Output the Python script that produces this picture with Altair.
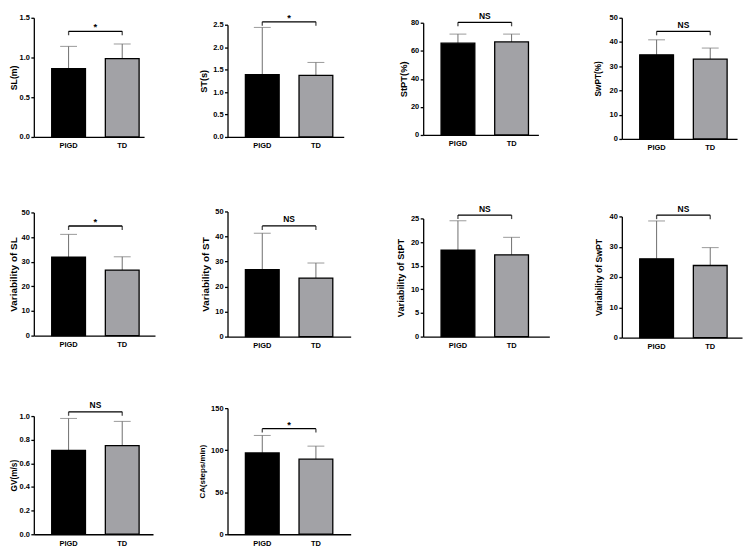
import altair as alt
import pandas as pd

# ---------------- data ----------------
groups = ["PIGD", "TD"]
y_titles = ["SL(m)", "ST(s)", "StPT(%)", "SwPT(%)",
            "Variability of SL", "Variability of ST", "Variability of StPT", "Variability of SwPT",
            "GV(m/s)", "CA(steps/min)"]
pigd_mean = [0.86, 1.39, 65.4, 34.7, 31.9, 26.8, 18.3, 26.0, 0.71, 96.7]
pigd_upper = [1.14, 2.44, 71.9, 40.9, 41.1, 41.3, 24.5, 38.5, 0.98, 117.5]
td_mean = [0.985, 1.37, 66.3, 32.9, 26.6, 23.4, 17.3, 23.8, 0.75, 89.3]
td_upper = [1.17, 1.66, 71.9, 37.5, 32.0, 29.4, 21.0, 29.7, 0.955, 104.8]
y_max = [1.5, 2.5, 80, 50, 50, 50, 25, 40, 1.0, 150]
y_ticks = [
    [0.0, 0.5, 1.0, 1.5],
    [0.0, 0.5, 1.0, 1.5, 2.0, 2.5],
    [0, 20, 40, 60, 80],
    [0, 10, 20, 30, 40, 50],
    [0, 10, 20, 30, 40, 50],
    [0, 10, 20, 30, 40, 50],
    [0, 5, 10, 15, 20, 25],
    [0, 10, 20, 30, 40],
    [0.0, 0.2, 0.4, 0.6, 0.8, 1.0],
    [0, 50, 100, 150],
]
tick_format = [".1f", ".1f", "d", "d", "d", "d", "d", "d", ".1f", "d"]
bracket_y = [1.33, 2.565, 80.3, 44.4, 44.5, 44.2, 25.7, 40.4, 1.036, 125.6]
sig_label = ["*", "*", "NS", "NS", "*", "NS", "NS", "NS", "NS", "*"]

# ---------------- style / layout ----------------
FONT = "Liberation Sans"
ERR = "#6f6f6f"
FILLS = ["#000000", "#a2a2a6"]
plot_w = [111, 117, 116, 116, 122, 124, 127, 121, 120, 124]
row_view_h = [129, 135, 133]
plot_top = [7, 14, 12, 7, 9, 8, 15, 13, 14, 6]          # gap between view top and plot top
plot_bottom_gap = [2, 2, 4, 0, 2, 1, 1, 0, 0, 0]       # gap between plot bottom and view bottom
title_size = [8.8, 9.3, 9.4, 8.3, 10, 10, 9.3, 8.7, 8.3, 8]
title_pad = [3.6, 7.35, 2.3, 7.85, 3, 5, 5.35, 6.65, 3.85, 8.9]
STEP = 54
BAND = 34


def panel(i):
    df = pd.DataFrame({
        "group": groups,
        "mean": [pigd_mean[i], td_mean[i]],
        "upper": [pigd_upper[i], td_upper[i]],
        "bracket": [bracket_y[i], bracket_y[i]],
    })
    br = pd.DataFrame({"g1": [groups[0]], "g2": [groups[1]], "y": [bracket_y[i]], "label": [sig_label[i]]})
    W = plot_w[i]
    H = row_view_h[i // 4]
    outer = W - (2 * STEP - (STEP - BAND))
    xscale = alt.Scale(domain=groups, paddingInner=1 - BAND / STEP,
                       paddingOuter=outer / (2 * STEP), align=18 / outer)
    yscale = alt.Scale(domain=[0, y_max[i]], nice=False, zero=True,
                       range=[H - plot_bottom_gap[i], plot_top[i]])
    x_axis = alt.Axis(title=None, ticks=False, labelAngle=0, offset=-plot_bottom_gap[i])
    y_axis = alt.Axis(title=y_titles[i], values=y_ticks[i], format=tick_format[i],
                      titleFontSize=title_size[i], titlePadding=title_pad[i],
                      minExtent=12, maxExtent=12)

    def xe(field):
        return alt.X(field, type="nominal", scale=xscale, axis=x_axis)

    def ye(field):
        return alt.Y(field, type="quantitative", scale=yscale, axis=y_axis)

    base = alt.Chart(df)
    err = base.mark_rule(color=ERR, strokeWidth=1).encode(x=xe("group"), y=ye("mean"), y2="upper:Q")
    caps = base.mark_tick(color=ERR, thickness=1, size=17).encode(x=xe("group"), y=ye("upper"))
    bars = base.mark_bar(stroke="black", strokeWidth=1.3).encode(
        x=xe("group"), y=ye("mean"),
        color=alt.Color("group:N", scale=alt.Scale(domain=groups, range=FILLS), legend=None))
    bline = alt.Chart(br).mark_rule(color="black", strokeWidth=1.3).encode(
        x=alt.X("g1:N", scale=xscale, axis=x_axis, bandPosition=0.5),
        x2=alt.X2("g2", bandPosition=0.5),
        y=ye("y"))
    bends = base.mark_tick(orient="vertical", color="black", thickness=1.3, size=4, yOffset=2).encode(
        x=xe("group"), y=ye("bracket"))
    is_star = sig_label[i] == "*"
    txt = alt.Chart(br).mark_text(font=FONT, fontWeight="bold",
                                  fontSize=9.5 if is_star else 8.5,
                                  baseline="alphabetic", dx=STEP / 2,
                                  dy=-1 if is_star else -3.5, color="black").encode(
        x=xe("g1"), y=ye("y"), text="label:N")
    return alt.layer(err, caps, bars, bline, bends, txt).properties(width=W, height=H)


chart = alt.concat(
    *[panel(i) for i in range(10)],
    columns=4,
    spacing={"row": 65, "column": 73},
    bounds="flush",
    align="each",
).properties(
    padding={"left": 0, "top": 0, "right": 2, "bottom": 0}
).configure_axis(
    labelFont=FONT, labelFontWeight="bold", labelColor="black", labelFontSize=7.5, labelPadding=1.5,
    titleFont=FONT, titleFontWeight="bold", titleColor="black",
    domainColor="black", domainWidth=1.3, tickColor="black", tickWidth=1.3, tickSize=3, grid=False,
).configure_axisX(
    labelFontSize=7.5, labelPadding=5, ticks=False,
).configure_view(stroke="transparent")

chart.save("out.html", embed_options={"renderer": "svg", "actions": False})
